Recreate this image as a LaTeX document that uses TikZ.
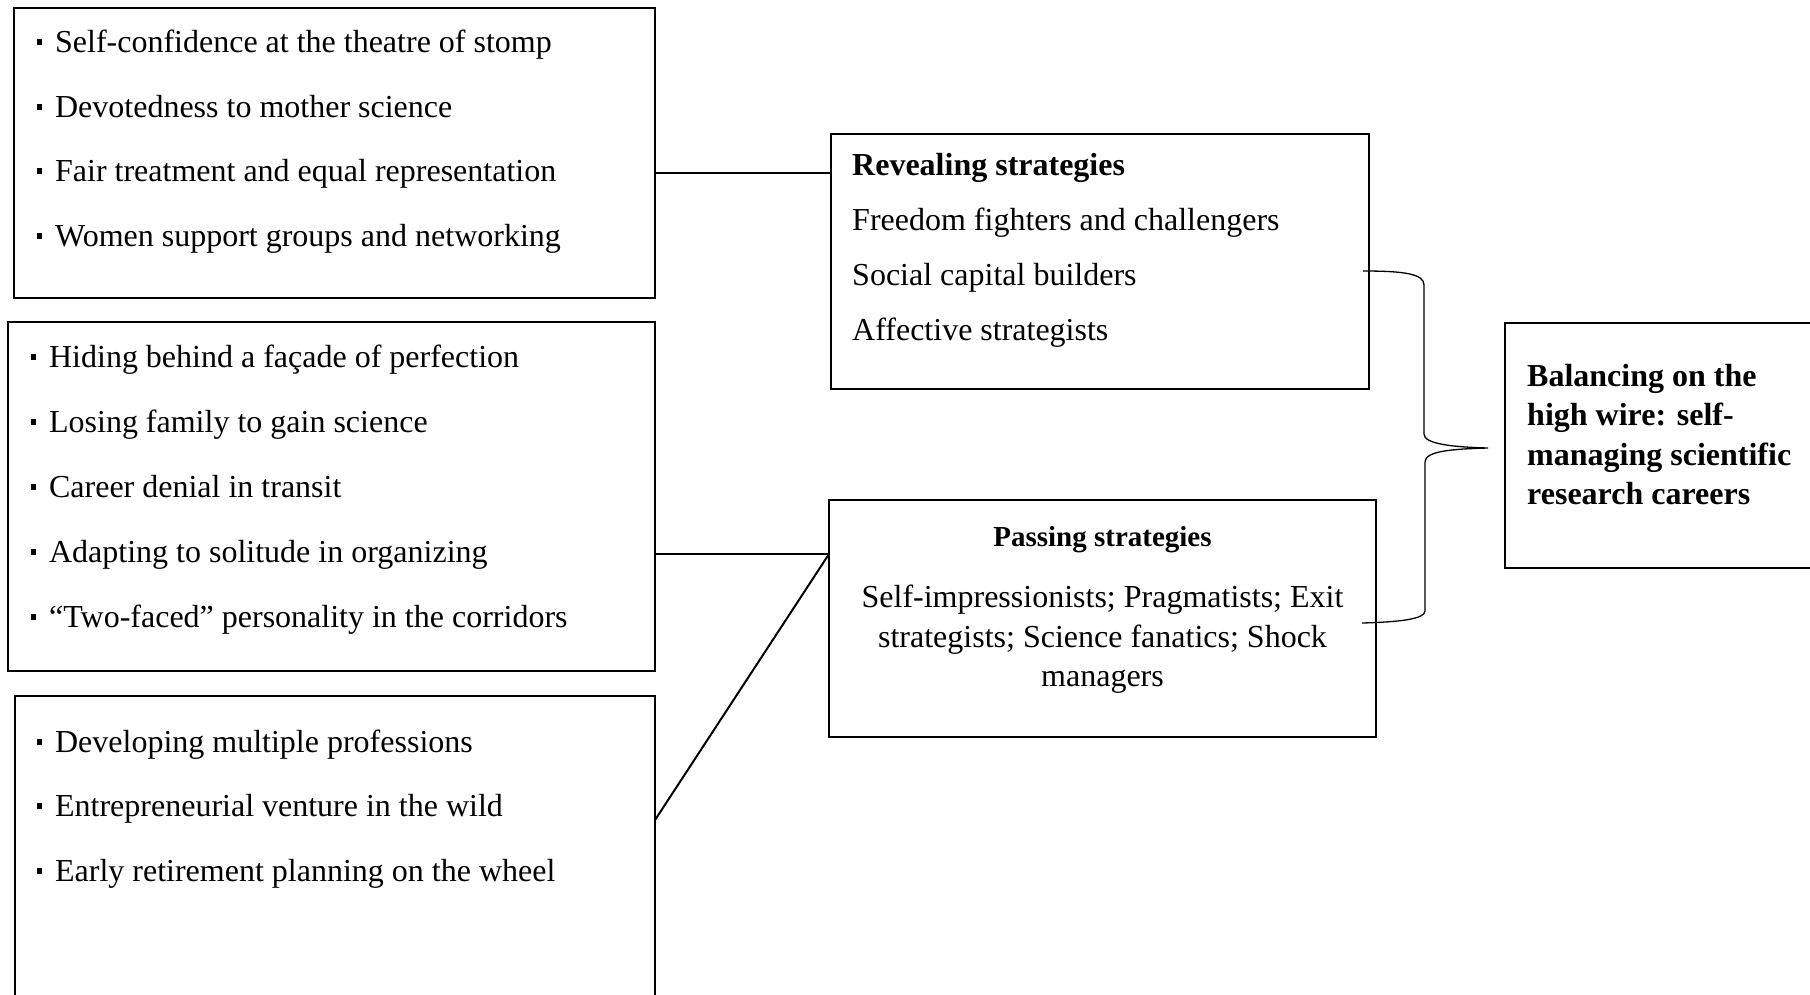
\documentclass[tikz,border=0pt]{standalone}
\usepackage{fontspec}
\setmainfont{Liberation Serif}
\newcommand{\sqbullet}{\rule[0.22em]{0.16em}{0.19em}\hspace{0.4em}}
\begin{document}
\begin{tikzpicture}[x=1pt,y=-1pt,
  box/.style={draw, line width=2pt, rectangle, inner sep=0pt, outer sep=0pt},
  txt/.style={anchor=base west, inner sep=0pt, font=\fontsize{32}{39.5}\selectfont},
  ctxt/.style={anchor=base, inner sep=0pt, font=\fontsize{32}{39.5}\selectfont},
  link/.style={line width=2pt},
  bracepath/.style={line width=1.3pt}]
\useasboundingbox (0,0) rectangle (1810,994);

% boxes
\node[box, minimum width=641pt, minimum height=290pt] (b1) at (334.5,153) {};
\node[box, minimum width=647pt, minimum height=349pt] (b2) at (331.5,496.5) {};
\node[box, minimum width=640pt, minimum height=310pt] (b3) at (335,851) {};
\node[box, minimum width=538pt, minimum height=255pt] (rev) at (1100,261.5) {};
\node[box, minimum width=547pt, minimum height=237pt] (pass) at (1102.5,618.5) {};
\node[box, minimum width=312pt, minimum height=245pt] (bal) at (1661,445.5) {};

% first group of themes
\node[txt] (t11) at (37,52) {\sqbullet Self-confidence at the theatre of stomp};
\node[txt] (t12) at (37,117) {\sqbullet Devotedness to mother science};
\node[txt] (t13) at (37,181.5) {\sqbullet Fair treatment and equal representation};
\node[txt] (t14) at (37,246) {\sqbullet Women support groups and networking};

% second group of themes
\node[txt] (t21) at (31,367) {\sqbullet Hiding behind a façade of perfection};
\node[txt] (t22) at (31,432) {\sqbullet Losing family to gain science};
\node[txt] (t23) at (31,497) {\sqbullet Career denial in transit};
\node[txt] (t24) at (31,562) {\sqbullet Adapting to solitude in organizing};
\node[txt] (t25) at (31,627) {\sqbullet “Two-faced” personality in the corridors};

% third group of themes
\node[txt] (t31) at (37,752) {\sqbullet Developing multiple professions};
\node[txt] (t32) at (37,816.5) {\sqbullet Entrepreneurial venture in the wild};
\node[txt] (t33) at (37,881) {\sqbullet Early retirement planning on the wheel};

% revealing strategies
\node[txt, font=\fontsize{32}{39.5}\selectfont\bfseries] (r0) at (852,175.5) {Revealing strategies};
\node[txt] (r1) at (852,230) {Freedom fighters and challengers};
\node[txt] (r2) at (852,285) {Social capital builders};
\node[txt] (r3) at (852,340) {Affective strategists};

% passing strategies
\node[ctxt, font=\fontsize{29}{36}\selectfont\bfseries] (p0) at (1102.5,546.5) {Passing strategies};
\node[ctxt] (p1) at (1102.5,607.5) {Self-impressionists; Pragmatists; Exit};
\node[ctxt] (p2) at (1102.5,647) {strategists; Science fanatics; Shock};
\node[ctxt] (p3) at (1102.5,686.5) {managers};

% core category
\node[txt, font=\fontsize{32}{39.5}\selectfont\bfseries] (c1) at (1527,386) {Balancing on the};
\node[txt, font=\fontsize{32}{39.5}\selectfont\bfseries] (c2) at (1527,425.5) {high wire: self-};
\node[txt, font=\fontsize{32}{39.5}\selectfont\bfseries] (c3) at (1527,465) {managing scientific};
\node[txt, font=\fontsize{32}{39.5}\selectfont\bfseries] (c4) at (1527,504.5) {research careers};

% connectors
\coordinate (y1) at (0,173);
\coordinate (y2) at (0,554);
\coordinate (y3) at (0,820);
\draw[link] (b1.east |- y1) -- (rev.west |- y1);
\draw[link] (b2.east |- y2) -- (pass.west |- y2);
\draw[link] (b3.east |- y3) -- (pass.west |- y2);

% brace joining both strategies
\coordinate (bt) at (1363,271);
\coordinate (bb) at (1362,623);
\coordinate (tip) at (1488,448);
\draw[bracepath] (bt) .. controls (1405,271) and (1424,274) .. (1424,285)
  -- (1424,434) .. controls (1424,444) and (1452,447) .. (tip)
  .. controls (1452,449) and (1425,451) .. (1425,462)
  -- (1425,611) .. controls (1425,619) and (1400,622) .. (bb);
\end{tikzpicture}
\end{document}
